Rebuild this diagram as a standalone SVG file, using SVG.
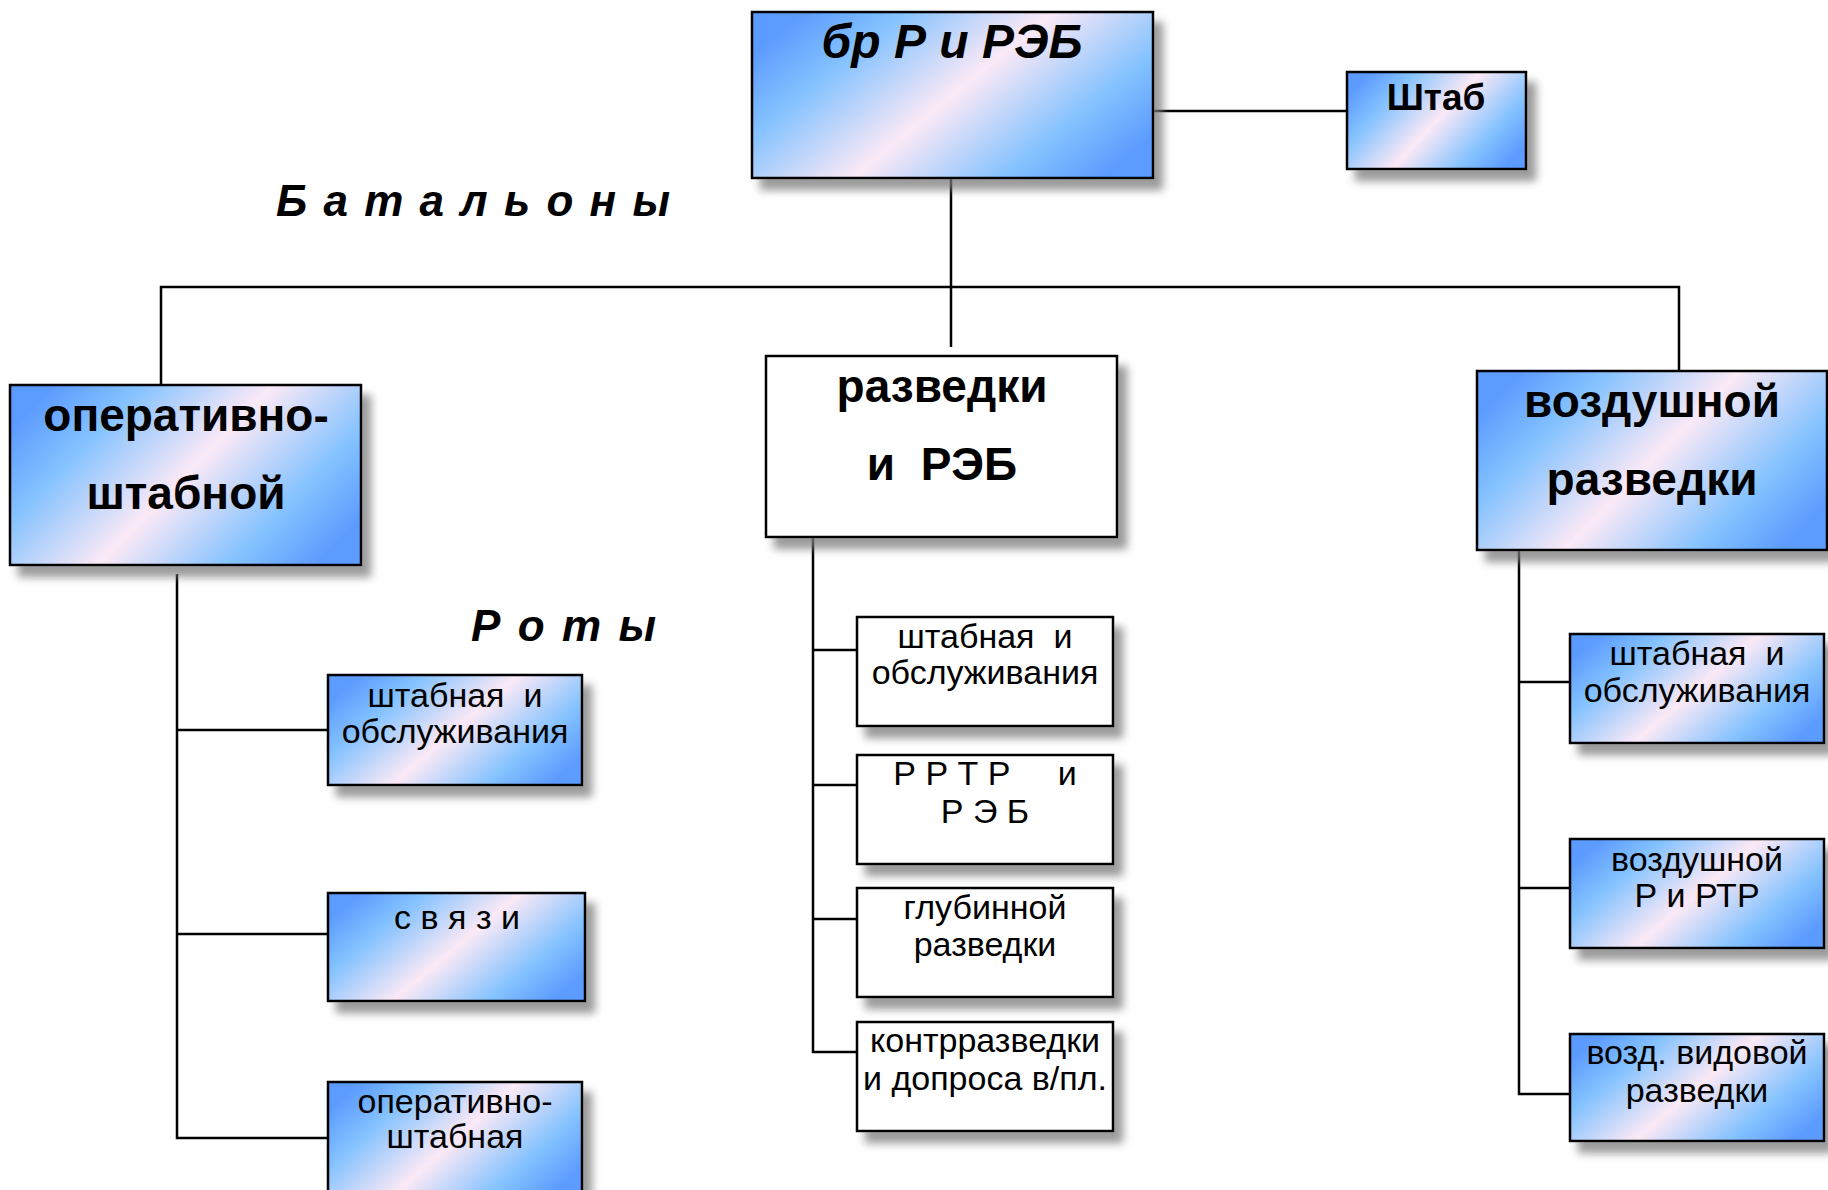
<svg xmlns="http://www.w3.org/2000/svg" width="1828" height="1190" viewBox="0 0 1828 1190">
<defs>
<linearGradient id="grad" x1="0" y1="0.25" x2="1" y2="0.75">
<stop offset="0" stop-color="#5c9bff"/>
<stop offset="0.2" stop-color="#84c2ff"/>
<stop offset="0.5" stop-color="#fbe9f6"/>
<stop offset="0.8" stop-color="#84c2ff"/>
<stop offset="1" stop-color="#5c9bff"/>
</linearGradient>
<filter id="sh" x="-10%" y="-10%" width="130%" height="140%">
<feDropShadow dx="9" dy="11" stdDeviation="4" flood-color="#7a7a7a" flood-opacity="0.75"/>
</filter>
<style>
.g{fill:url(#grad);stroke:#000;stroke-width:2.5;filter:url(#sh)}
.w{fill:#fff;stroke:#000;stroke-width:2.5;filter:url(#sh)}
.c{fill:none;stroke:#000;stroke-width:2.5}
.t{font-family:"Liberation Sans",Arial,sans-serif;fill:#000;text-anchor:middle}
.b{font-weight:bold;font-size:46px}
.s{font-size:34px;white-space:pre}
.h{font-family:"Liberation Sans",Arial,sans-serif;font-weight:bold;font-style:italic;fill:#000}
</style>
</defs>
<rect width="1828" height="1190" fill="#fff"/>
<g id="connectors">
<line class="c" x1="1153" y1="111" x2="1347" y2="111" stroke-width="3.5"/>
<line class="c" x1="951" y1="178" x2="951" y2="347"/>
<polyline class="c" points="161,385 161,287 1679,287 1679,371"/>
<polyline class="c" points="177,574 177,1138 328,1138"/>
<line class="c" x1="177" y1="730" x2="328" y2="730"/>
<line class="c" x1="177" y1="934" x2="328" y2="934"/>
<polyline class="c" points="813,537 813,1052 857,1052"/>
<line class="c" x1="813" y1="650" x2="857" y2="650"/>
<line class="c" x1="813" y1="785" x2="857" y2="785"/>
<line class="c" x1="813" y1="919" x2="857" y2="919"/>
<polyline class="c" points="1519,550 1519,1094 1570,1094"/>
<line class="c" x1="1519" y1="682" x2="1570" y2="682"/>
<line class="c" x1="1519" y1="888" x2="1570" y2="888"/>
</g>
<g id="brigade">
<rect class="g" x="752" y="12" width="401" height="166"/>
<text class="h" x="952" y="58" font-size="48" text-anchor="middle">бр Р и РЭБ</text>
</g>
<g id="shtab">
<rect class="g" x="1347" y="72" width="179" height="97"/>
<text class="t" x="1436" y="110" font-weight="bold" font-size="37">Штаб</text>
</g>
<g id="label-battalions">
<text class="h" x="276" y="216" font-size="44" textLength="394" lengthAdjust="spacing">Б а т а л ь о н ы</text>
</g>
<g id="label-companies">
<text class="h" x="471" y="641" font-size="44" textLength="185" lengthAdjust="spacing">Р о т ы</text>
</g>
<g id="bn-ops">
<rect class="g" x="10" y="385" width="351" height="180"/>
<text class="t b" x="186" y="431">оперативно-</text>
<text class="t b" x="186" y="509">штабной</text>
</g>
<g id="bn-recon">
<rect class="w" x="766" y="356" width="351" height="181"/>
<text class="t b" x="942" y="402">разведки</text>
<text class="t b" x="942" y="480" style="white-space:pre">и  РЭБ</text>
</g>
<g id="bn-air">
<rect class="g" x="1477" y="371" width="350" height="179"/>
<text class="t b" x="1652" y="417">воздушной</text>
<text class="t b" x="1652" y="495">разведки</text>
</g>
<g id="co-ops-hq">
<rect class="g" x="328" y="675" width="254" height="110"/>
<text class="t s" x="455" y="707">штабная  и</text>
<text class="t s" x="455" y="743">обслуживания</text>
</g>
<g id="co-ops-signal">
<rect class="g" x="328" y="893" width="257" height="108"/>
<text class="t s" x="457" y="929">с в я з и</text>
</g>
<g id="co-ops-staff">
<rect class="g" x="328" y="1082" width="254" height="115"/>
<text class="t s" x="455" y="1113">оперативно-</text>
<text class="t s" x="455" y="1148">штабная</text>
</g>
<g id="co-rec-hq">
<rect class="w" x="857" y="617" width="256" height="109"/>
<text class="t s" x="985" y="648">штабная  и</text>
<text class="t s" x="985" y="684">обслуживания</text>
</g>
<g id="co-rec-rrtr">
<rect class="w" x="857" y="755" width="256" height="109"/>
<text class="t s" x="985" y="785">Р Р Т Р     и</text>
<text class="t s" x="985" y="823">Р Э Б</text>
</g>
<g id="co-rec-deep">
<rect class="w" x="857" y="888" width="256" height="109"/>
<text class="t s" x="985" y="919">глубинной</text>
<text class="t s" x="985" y="956">разведки</text>
</g>
<g id="co-rec-counter">
<rect class="w" x="857" y="1022" width="256" height="109"/>
<text class="t s" x="985" y="1052">контрразведки</text>
<text class="t s" x="985" y="1090">и допроса в/пл.</text>
</g>
<g id="co-air-hq">
<rect class="g" x="1570" y="634" width="254" height="109"/>
<text class="t s" x="1697" y="665">штабная  и</text>
<text class="t s" x="1697" y="702">обслуживания</text>
</g>
<g id="co-air-rtr">
<rect class="g" x="1570" y="839" width="254" height="109"/>
<text class="t s" x="1697" y="871">воздушной</text>
<text class="t s" x="1697" y="907">Р и РТР</text>
</g>
<g id="co-air-photo">
<rect class="g" x="1570" y="1034" width="254" height="107"/>
<text class="t s" x="1697" y="1064">возд. видовой</text>
<text class="t s" x="1697" y="1102">разведки</text>
</g>
</svg>
